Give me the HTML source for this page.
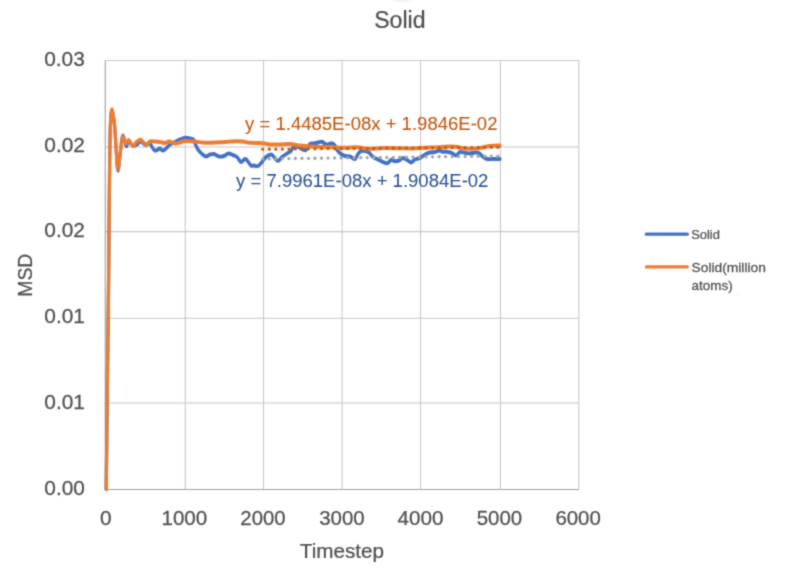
<!DOCTYPE html>
<html><head><meta charset="utf-8"><title>Solid</title>
<style>html,body{margin:0;padding:0;background:#fff;width:800px;height:581px;overflow:hidden}svg{display:block}</style>
</head><body>
<svg width="800" height="581" viewBox="0 0 800 581">
<defs><filter id="bl" x="0" y="0" width="100%" height="100%" color-interpolation-filters="sRGB"><feConvolveMatrix order="3" kernelMatrix="1 4 1 4 16 4 1 4 1" divisor="36" edgeMode="duplicate"/></filter></defs>
<g filter="url(#bl)">
<rect width="800" height="581" fill="#fff"/>
<ellipse cx="401.5" cy="0.3" rx="8.5" ry="1.8" fill="#f3f3f3"/>
<circle cx="737.5" cy="294.3" r="0.6" fill="#d8d8d8"/>
<g stroke="#c6c6c6" stroke-width="1.05" fill="none"><line x1="105.25" y1="403.00" x2="578.84" y2="403.00"/><line x1="105.25" y1="318.30" x2="578.84" y2="318.30"/><line x1="105.25" y1="231.60" x2="578.84" y2="231.60"/><line x1="105.25" y1="146.90" x2="578.84" y2="146.90"/><line x1="105.25" y1="60.50" x2="578.84" y2="60.50"/><line x1="185.30" y1="60.50" x2="185.30" y2="489.50"/><line x1="263.50" y1="60.50" x2="263.50" y2="489.50"/><line x1="342.05" y1="60.50" x2="342.05" y2="489.50"/><line x1="420.55" y1="60.50" x2="420.55" y2="489.50"/><line x1="500.45" y1="60.50" x2="500.45" y2="489.50"/><line x1="578.84" y1="60.50" x2="578.84" y2="489.50"/></g>
<line x1="105.25" y1="489.5" x2="578.84" y2="489.5" stroke="#a2a2a2" stroke-width="1.1"/>
<line x1="105.25" y1="489.5" x2="105.25" y2="60.5" stroke="#9a9a9a" stroke-width="1.05"/>
<path transform="scale(1 1.22)" d="M106.20 401.07 C106.30 394.33 106.60 375.59 106.80 360.66 C107.00 345.72 107.19 326.50 107.40 311.48 C107.61 296.45 107.85 284.15 108.05 270.49 C108.25 256.83 108.44 242.90 108.60 229.51 C108.76 216.12 108.82 206.56 109.00 190.16 C109.18 173.77 109.47 145.77 109.70 131.15 C109.93 116.53 110.02 109.36 110.40 102.46 C110.78 95.56 111.32 89.75 112.00 89.75 C112.68 89.75 113.80 96.93 114.50 102.46 C115.20 107.99 115.62 116.69 116.20 122.95 C116.78 129.21 117.27 140.00 118.00 140.00 C118.73 140.00 119.81 127.77 120.60 122.95 C121.39 118.13 121.81 111.58 122.75 111.07 C123.69 110.55 125.29 119.19 126.25 119.88 C127.21 120.56 127.46 115.27 128.50 115.16 C129.54 115.06 131.08 118.72 132.50 119.26 C133.92 119.81 135.67 118.99 137.00 118.44 C138.33 117.90 139.00 115.92 140.50 115.98 C142.00 116.05 144.50 118.65 146.00 118.85 C147.50 119.06 148.17 116.53 149.50 117.21 C150.83 117.90 152.75 121.99 154.00 122.95 C155.25 123.91 156.00 123.16 157.00 122.95 C158.00 122.75 158.92 121.65 160.00 121.72 C161.08 121.79 161.83 123.91 163.50 123.36 C165.17 122.81 167.92 119.67 170.00 118.44 C172.08 117.21 174.33 116.67 176.00 115.98 C177.67 115.30 178.42 114.85 180.00 114.34 C181.58 113.84 183.83 113.09 185.50 112.95 C187.17 112.81 188.67 113.29 190.00 113.52 C191.33 113.76 192.58 113.52 193.50 114.34 C194.42 115.16 194.75 117.08 195.50 118.44 C196.25 119.81 196.92 121.24 198.00 122.54 C199.08 123.84 200.67 125.27 202.00 126.23 C203.33 127.19 204.67 128.21 206.00 128.28 C207.33 128.35 208.67 126.98 210.00 126.64 C211.33 126.30 212.50 125.96 214.00 126.23 C215.50 126.50 217.33 128.01 219.00 128.28 C220.67 128.55 222.42 128.28 224.00 127.87 C225.58 127.46 227.00 125.96 228.50 125.82 C230.00 125.68 231.58 126.57 233.00 127.05 C234.42 127.53 235.67 127.73 237.00 128.69 C238.33 129.64 239.58 132.51 241.00 132.79 C242.42 133.06 243.83 129.85 245.50 130.33 C247.17 130.81 249.58 134.77 251.00 135.66 C252.42 136.54 252.83 135.59 254.00 135.66 C255.17 135.72 256.67 136.54 258.00 136.07 C259.33 135.59 260.67 134.02 262.00 132.79 C263.33 131.56 264.50 129.71 266.00 128.69 C267.50 127.66 269.67 126.64 271.00 126.64 C272.33 126.64 272.83 127.80 274.00 128.69 C275.17 129.58 276.67 131.97 278.00 131.97 C279.33 131.97 280.50 129.71 282.00 128.69 C283.50 127.66 285.50 126.64 287.00 125.82 C288.50 125.00 290.00 124.59 291.00 123.77 C292.00 122.95 292.00 121.52 293.00 120.90 C294.00 120.29 295.50 119.88 297.00 120.08 C298.50 120.29 300.50 121.65 302.00 122.13 C303.50 122.61 304.67 123.63 306.00 122.95 C307.33 122.27 308.67 118.92 310.00 118.03 C311.33 117.14 312.67 117.83 314.00 117.62 C315.33 117.42 316.67 117.04 318.00 116.80 C319.33 116.57 320.67 115.96 322.00 116.23 C323.33 116.50 325.00 118.07 326.00 118.44 C327.00 118.81 327.00 118.62 328.00 118.44 C329.00 118.27 330.83 117.24 332.00 117.38 C333.17 117.51 334.17 118.33 335.00 119.26 C335.83 120.19 336.00 121.79 337.00 122.95 C338.00 124.11 339.67 125.41 341.00 126.23 C342.33 127.05 343.50 127.53 345.00 127.87 C346.50 128.21 348.33 127.87 350.00 128.28 C351.67 128.69 353.67 130.67 355.00 130.33 C356.33 129.99 357.00 127.30 358.00 126.23 C359.00 125.16 359.83 124.34 361.00 123.93 C362.17 123.52 363.67 123.59 365.00 123.77 C366.33 123.95 367.67 124.18 369.00 125.00 C370.33 125.82 371.33 127.66 373.00 128.69 C374.67 129.71 377.00 130.36 379.00 131.15 C381.00 131.94 383.50 133.03 385.00 133.44 C386.50 133.85 387.00 133.99 388.00 133.61 C389.00 133.22 389.83 131.39 391.00 131.15 C392.17 130.90 393.67 132.06 395.00 132.13 C396.33 132.20 397.67 131.99 399.00 131.56 C400.33 131.12 401.50 129.51 403.00 129.51 C404.50 129.51 406.67 130.94 408.00 131.56 C409.33 132.17 409.83 133.33 411.00 133.20 C412.17 133.06 413.50 131.35 415.00 130.74 C416.50 130.12 418.33 130.19 420.00 129.51 C421.67 128.83 423.33 127.39 425.00 126.64 C426.67 125.89 428.33 125.34 430.00 125.00 C431.67 124.66 433.50 124.86 435.00 124.59 C436.50 124.32 437.67 123.39 439.00 123.36 C440.33 123.33 441.67 124.25 443.00 124.43 C444.33 124.60 445.50 124.23 447.00 124.43 C448.50 124.62 450.50 125.07 452.00 125.57 C453.50 126.08 454.67 127.62 456.00 127.46 C457.33 127.30 458.50 124.96 460.00 124.59 C461.50 124.22 463.33 125.04 465.00 125.25 C466.67 125.45 468.33 125.86 470.00 125.82 C471.67 125.78 473.50 125.07 475.00 125.00 C476.50 124.93 477.83 124.93 479.00 125.41 C480.17 125.89 480.67 127.05 482.00 127.87 C483.33 128.69 485.33 129.92 487.00 130.33 C488.67 130.74 489.83 130.33 492.00 130.33 C494.17 130.33 498.67 130.33 500.00 130.33" fill="none" stroke="#4472C4" stroke-width="3.25" stroke-linejoin="round" stroke-linecap="round"/>
<path transform="scale(1 1.22)" d="M106.20 401.07 C106.30 394.33 106.60 375.59 106.80 360.66 C107.00 345.72 107.19 326.50 107.40 311.48 C107.61 296.45 107.85 284.15 108.05 270.49 C108.25 256.83 108.44 242.90 108.60 229.51 C108.76 216.12 108.82 206.56 109.00 190.16 C109.18 173.77 109.47 145.77 109.70 131.15 C109.93 116.53 110.02 109.36 110.40 102.46 C110.78 95.56 111.32 89.75 112.00 89.75 C112.68 89.75 113.80 96.93 114.50 102.46 C115.20 107.99 115.62 116.91 116.20 122.95 C116.78 128.99 117.27 138.69 118.00 138.69 C118.73 138.69 119.81 127.38 120.60 122.95 C121.39 118.52 121.85 112.98 122.75 112.09 C123.65 111.20 125.00 117.18 126.00 117.62 C127.00 118.07 127.62 114.41 128.75 114.75 C129.88 115.10 131.46 119.40 132.75 119.67 C134.04 119.95 135.17 117.25 136.50 116.39 C137.83 115.54 139.17 114.21 140.75 114.55 C142.33 114.89 144.46 118.20 146.00 118.44 C147.54 118.68 148.50 116.39 150.00 115.98 C151.50 115.57 153.33 115.92 155.00 115.98 C156.67 116.05 158.33 116.19 160.00 116.39 C161.67 116.60 163.50 117.28 165.00 117.21 C166.50 117.14 167.33 115.92 169.00 115.98 C170.67 116.05 173.17 117.49 175.00 117.62 C176.83 117.76 178.33 117.14 180.00 116.80 C181.67 116.46 182.50 115.71 185.00 115.57 C187.50 115.44 191.67 115.74 195.00 115.98 C198.33 116.23 201.67 116.91 205.00 117.05 C208.33 117.19 211.67 116.91 215.00 116.80 C218.33 116.69 221.67 116.57 225.00 116.39 C228.33 116.22 232.00 115.81 235.00 115.74 C238.00 115.67 240.50 115.77 243.00 115.98 C245.50 116.20 247.17 116.84 250.00 117.05 C252.83 117.25 257.50 117.12 260.00 117.21 C262.50 117.31 263.33 117.42 265.00 117.62 C266.67 117.83 267.50 118.31 270.00 118.44 C272.50 118.58 276.67 118.51 280.00 118.44 C283.33 118.37 286.67 117.90 290.00 118.03 C293.33 118.17 296.67 118.92 300.00 119.26 C303.33 119.60 306.67 119.88 310.00 120.08 C313.33 120.29 316.67 120.41 320.00 120.49 C323.33 120.57 325.83 120.48 330.00 120.57 C334.17 120.67 340.50 121.04 345.00 121.07 C349.50 121.09 353.33 120.60 357.00 120.74 C360.67 120.87 364.00 121.71 367.00 121.89 C370.00 122.06 372.00 121.90 375.00 121.80 C378.00 121.71 381.67 121.37 385.00 121.31 C388.33 121.26 391.67 121.45 395.00 121.48 C398.33 121.50 402.50 121.43 405.00 121.48 C407.50 121.52 407.50 121.75 410.00 121.72 C412.50 121.69 416.67 121.45 420.00 121.31 C423.33 121.17 426.67 121.01 430.00 120.90 C433.33 120.79 436.67 120.79 440.00 120.66 C443.33 120.52 447.33 120.14 450.00 120.08 C452.67 120.03 453.50 120.05 456.00 120.33 C458.50 120.60 462.67 121.45 465.00 121.72 C467.33 121.99 467.50 122.04 470.00 121.97 C472.50 121.90 476.67 121.69 480.00 121.31 C483.33 120.93 486.67 120.01 490.00 119.67 C493.33 119.33 498.33 119.33 500.00 119.26" fill="none" stroke="#ED7D31" stroke-width="3.25" stroke-linejoin="round" stroke-linecap="round"/>
<g fill="#A5A5A5"><circle cx="262.75" cy="158.90" r="1.65"/><circle cx="269.28" cy="158.82" r="1.65"/><circle cx="275.81" cy="158.74" r="1.65"/><circle cx="282.34" cy="158.66" r="1.65"/><circle cx="288.87" cy="158.58" r="1.65"/><circle cx="295.40" cy="158.50" r="1.65"/><circle cx="301.93" cy="158.42" r="1.65"/><circle cx="308.46" cy="158.34" r="1.65"/><circle cx="314.99" cy="158.26" r="1.65"/><circle cx="321.52" cy="158.18" r="1.65"/><circle cx="328.05" cy="158.10" r="1.65"/><circle cx="334.57" cy="158.02" r="1.65"/><circle cx="341.10" cy="157.94" r="1.65"/><circle cx="347.63" cy="157.86" r="1.65"/><circle cx="354.16" cy="157.78" r="1.65"/><circle cx="360.69" cy="157.70" r="1.65"/><circle cx="367.22" cy="157.62" r="1.65"/><circle cx="373.75" cy="157.54" r="1.65"/><circle cx="380.28" cy="157.46" r="1.65"/><circle cx="386.81" cy="157.38" r="1.65"/><circle cx="393.34" cy="157.30" r="1.65"/><circle cx="399.87" cy="157.22" r="1.65"/><circle cx="406.40" cy="157.14" r="1.65"/><circle cx="412.93" cy="157.06" r="1.65"/><circle cx="419.46" cy="156.98" r="1.65"/><circle cx="425.99" cy="156.90" r="1.65"/><circle cx="432.52" cy="156.82" r="1.65"/><circle cx="439.05" cy="156.75" r="1.65"/><circle cx="445.58" cy="156.67" r="1.65"/><circle cx="452.11" cy="156.59" r="1.65"/><circle cx="458.64" cy="156.51" r="1.65"/><circle cx="465.16" cy="156.43" r="1.65"/><circle cx="471.69" cy="156.35" r="1.65"/><circle cx="478.22" cy="156.27" r="1.65"/><circle cx="484.75" cy="156.19" r="1.65"/><circle cx="491.28" cy="156.11" r="1.65"/><circle cx="497.81" cy="156.03" r="1.65"/></g>
<g fill="#C55A11"><circle cx="262.75" cy="149.25" r="1.60"/><circle cx="269.28" cy="149.20" r="1.60"/><circle cx="275.81" cy="149.14" r="1.60"/><circle cx="282.34" cy="149.09" r="1.60"/><circle cx="288.87" cy="149.04" r="1.60"/><circle cx="295.40" cy="148.98" r="1.60"/><circle cx="301.93" cy="148.93" r="1.60"/><circle cx="308.46" cy="148.87" r="1.60"/><circle cx="314.99" cy="148.82" r="1.60"/><circle cx="321.52" cy="148.77" r="1.60"/><circle cx="328.05" cy="148.71" r="1.60"/><circle cx="334.58" cy="148.66" r="1.60"/><circle cx="341.11" cy="148.61" r="1.60"/><circle cx="347.64" cy="148.55" r="1.60"/><circle cx="354.17" cy="148.50" r="1.60"/><circle cx="360.70" cy="148.44" r="1.60"/><circle cx="367.23" cy="148.39" r="1.60"/><circle cx="373.76" cy="148.34" r="1.60"/><circle cx="380.29" cy="148.28" r="1.60"/><circle cx="386.82" cy="148.23" r="1.60"/><circle cx="393.35" cy="148.18" r="1.60"/><circle cx="399.88" cy="148.12" r="1.60"/><circle cx="406.41" cy="148.07" r="1.60"/><circle cx="412.93" cy="148.02" r="1.60"/><circle cx="419.46" cy="147.96" r="1.60"/><circle cx="425.99" cy="147.91" r="1.60"/><circle cx="432.52" cy="147.85" r="1.60"/><circle cx="439.05" cy="147.80" r="1.60"/><circle cx="445.58" cy="147.75" r="1.60"/><circle cx="452.11" cy="147.69" r="1.60"/><circle cx="458.64" cy="147.64" r="1.60"/><circle cx="465.17" cy="147.59" r="1.60"/><circle cx="471.70" cy="147.53" r="1.60"/><circle cx="478.23" cy="147.48" r="1.60"/><circle cx="484.76" cy="147.43" r="1.60"/><circle cx="491.29" cy="147.37" r="1.60"/><circle cx="497.82" cy="147.32" r="1.60"/></g>
<line x1="646.4" y1="234.15" x2="687.3" y2="234.15" stroke="#4472C4" stroke-width="3.3" stroke-linecap="round"/>
<line x1="646.4" y1="266.9" x2="687.3" y2="266.9" stroke="#ED7D31" stroke-width="3.3" stroke-linecap="round"/>
<g font-family="'Liberation Sans', Arial, sans-serif"><text transform="translate(399.82 28.32) scale(0.9817 1)" font-size="23.52" fill="#505050" stroke="#505050" stroke-width="0.25" text-anchor="middle">Solid</text><text transform="translate(64.62 495.25) scale(1.0280 1)" font-size="20.30" fill="#505050" stroke="#505050" stroke-width="0.25" text-anchor="middle">0.00</text><text transform="translate(64.48 65.90) scale(1.0280 1)" font-size="20.30" fill="#505050" stroke="#505050" stroke-width="0.25" text-anchor="middle">0.03</text><text transform="translate(105.80 525.36) scale(1.0243 1)" font-size="20.42" fill="#505050" stroke="#505050" stroke-width="0.25" text-anchor="middle">0</text><text transform="translate(184.34 525.10) scale(1.0199 1)" font-size="20.20" fill="#505050" stroke="#505050" stroke-width="0.25" text-anchor="middle">1000</text><text transform="translate(262.99 525.10) scale(1.0084 1)" font-size="20.20" fill="#505050" stroke="#505050" stroke-width="0.25" text-anchor="middle">2000</text><text transform="translate(341.93 525.10) scale(1.0110 1)" font-size="20.20" fill="#505050" stroke="#505050" stroke-width="0.25" text-anchor="middle">3000</text><text transform="translate(420.52 525.10) scale(1.0234 1)" font-size="20.20" fill="#505050" stroke="#505050" stroke-width="0.25" text-anchor="middle">4000</text><text transform="translate(499.46 525.10) scale(1.0142 1)" font-size="20.20" fill="#505050" stroke="#505050" stroke-width="0.25" text-anchor="middle">5000</text><text transform="translate(578.08 525.10) scale(1.0112 1)" font-size="20.20" fill="#505050" stroke="#505050" stroke-width="0.25" text-anchor="middle">6000</text><text transform="translate(341.95 558.00) scale(0.9879 1)" font-size="20.93" fill="#505050" stroke="#505050" stroke-width="0.25" text-anchor="middle">Timestep</text><text transform="translate(371.24 130.30) scale(0.9801 1)" font-size="18.91" fill="#C2560E" stroke="#C2560E" stroke-width="0.05" text-anchor="middle">y = 1.4485E-08x + 1.9846E-02</text><text transform="translate(362.24 187.20) scale(1.0029 1)" font-size="18.48" fill="#2C5294" stroke="#2C5294" stroke-width="0.05" text-anchor="middle">y = 7.9961E-08x + 1.9084E-02</text><text transform="translate(705.57 238.58) scale(1.0332 1)" font-size="12.50" fill="#505050" stroke="#505050" stroke-width="0.25" text-anchor="middle">Solid</text><text transform="translate(728.68 271.60) scale(1.1045 1)" font-size="12.50" fill="#505050" stroke="#505050" stroke-width="0.25" text-anchor="middle">Solid(million</text><text transform="translate(712.13 289.60) scale(1.0787 1)" font-size="12.50" fill="#505050" stroke="#505050" stroke-width="0.25" text-anchor="middle">atoms)</text><text transform="translate(64.62 408.65) scale(1.0280 1)" font-size="20.30" fill="#505050" stroke="#505050" stroke-width="0.25" text-anchor="middle">0.01</text><text transform="translate(64.62 322.75) scale(1.0280 1)" font-size="20.30" fill="#505050" stroke="#505050" stroke-width="0.25" text-anchor="middle">0.01</text><text transform="translate(64.62 237.10) scale(1.0280 1)" font-size="20.30" fill="#505050" stroke="#505050" stroke-width="0.25" text-anchor="middle">0.02</text><text transform="translate(64.62 151.75) scale(1.0280 1)" font-size="20.30" fill="#505050" stroke="#505050" stroke-width="0.25" text-anchor="middle">0.02</text><text transform="translate(32.2 275.2) rotate(-90) scale(0.97 1)" font-size="20" fill="#505050" stroke="#505050" stroke-width="0.25" text-anchor="middle">MSD</text></g>
</g>
</svg>
</body></html>
